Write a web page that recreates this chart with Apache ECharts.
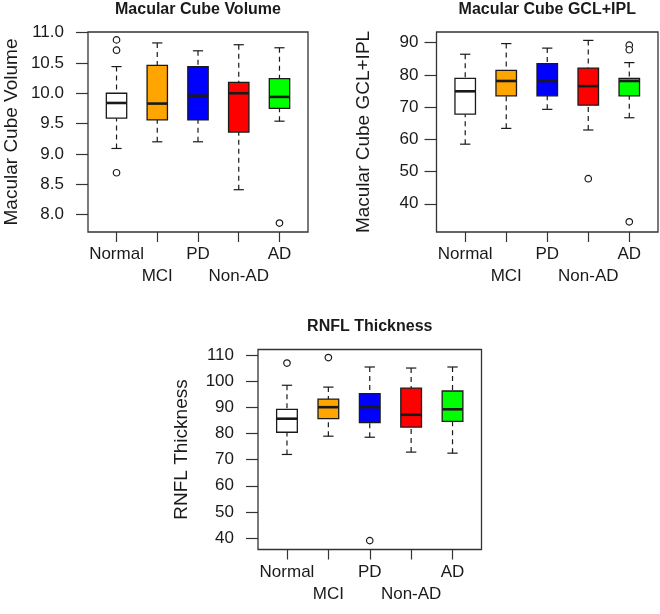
<!DOCTYPE html>
<html>
<head>
<meta charset="utf-8">
<script src="https://cdn.jsdelivr.net/npm/echarts@6/dist/echarts.min.js"></script>
<style>
html,body{margin:0;padding:0;background:#fff;}
#chart{width:660px;height:614px;}
</style>
</head>
<body>
<div id="chart"></div>
<script>
// ---------- data ----------
const categories = ['Normal', 'MCI', 'PD', 'Non-AD', 'AD'];

// [min whisker, Q1, median, Q3, max whisker]
const volumeStats = [
  [9.09, 9.59, 9.84, 10.00, 10.44],
  [9.20, 9.56, 9.83, 10.46, 10.83],
  [9.20, 9.56, 9.96, 10.44, 10.70],
  [8.41, 9.36, 10.00, 10.18, 10.80],
  [9.54, 9.75, 9.94, 10.24, 10.75]
];
// [category number, value]
const volumeOutliers = [[1, 10.88], [1, 10.71], [1, 8.69], [5, 7.86]];
const volumeTicks = [8.0, 8.5, 9.0, 9.5, 10.0, 10.5, 11.0];

const gclStats = [
  [58.5, 67.8, 74.9, 78.9, 86.4],
  [63.4, 73.5, 78.1, 81.4, 89.7],
  [69.3, 73.5, 78.1, 83.5, 88.3],
  [62.9, 70.6, 76.5, 82.1, 90.7],
  [66.7, 73.5, 78.1, 78.9, 83.8]
];
const gclOutliers = [[4, 47.8], [5, 89.2], [5, 87.8], [5, 34.4]];
const gclTicks = [40, 50, 60, 70, 80, 90];

const rnflStats = [
  [72.0, 80.5, 85.7, 89.3, 98.5],
  [79.0, 85.7, 90.1, 93.2, 97.8],
  [78.6, 84.2, 90.1, 95.3, 105.5],
  [72.9, 82.5, 87.2, 97.4, 105.1],
  [72.5, 84.7, 89.3, 96.3, 105.5]
];
const rnflOutliers = [[1, 107.0], [2, 109.1], [3, 39.0]];
const rnflTicks = [40, 50, 60, 70, 80, 90, 100, 110];

const categoryPositions = [1, 2, 3, 4, 5];
const firstRowPositions = [1, 3, 5];
const secondRowPositions = [2, 4];

const panelTitles = ['Macular Cube Volume', 'Macular Cube GCL+IPL', 'RNFL Thickness'];
const yNames = ['Macular Cube Volume', 'Macular Cube GCL+IPL', 'RNFL Thickness'];

// ---------- styles ----------
const boxColors = ['#FFFFFF', '#FFA500', '#0000FF', '#FF0000', '#00FF00'];
const ink = '#1a1a1a';
const frame = '#333333';
const FONT = 'Liberation Sans, Arial, sans-serif';

const panels = [
  {grid: {left: 88, top: 32, width: 220, height: 200}, yMin: 7.713, yMax: 11.01, ticks: volumeTicks, dec: 1, stats: volumeStats, out: volumeOutliers, nameGap: 67, labelMargin: 24},
  {grid: {left: 436.5, top: 32, width: 221.5, height: 200}, yMin: 31.25, yMax: 93.3, ticks: gclTicks, dec: 0, stats: gclStats, out: gclOutliers, nameGap: 63, labelMargin: 18},
  {grid: {left: 258, top: 349.5, width: 223.5, height: 200}, yMin: 35.6, yMax: 112.2, ticks: rnflTicks, dec: 0, stats: rnflStats, out: rnflOutliers, nameGap: 67, labelMargin: 24}
];

function renderBox(params, api) {
  const x = api.value(0);
  const lo = api.value(1), q1 = api.value(2), med = api.value(3), q3 = api.value(4), hi = api.value(5);
  const color = boxColors[params.dataIndex];
  const pLo = api.coord([x, lo]);
  const pQ1 = api.coord([x, q1]);
  const pMed = api.coord([x, med]);
  const pQ3 = api.coord([x, q3]);
  const pHi = api.coord([x, hi]);
  const cx = pMed[0];
  const halfW = api.size([0.25, 0])[0];
  const capW = api.size([0.125, 0])[0];
  const dash = {stroke: ink, lineWidth: 1.2, lineDash: [5, 4]};
  const solid = {stroke: ink, lineWidth: 1.2};
  return {
    type: 'group',
    children: [
      {type: 'line', shape: {x1: cx, y1: pLo[1], x2: cx, y2: pQ1[1]}, style: dash},
      {type: 'line', shape: {x1: cx, y1: pHi[1], x2: cx, y2: pQ3[1]}, style: dash},
      {type: 'line', shape: {x1: cx - capW, y1: pLo[1], x2: cx + capW, y2: pLo[1]}, style: solid},
      {type: 'line', shape: {x1: cx - capW, y1: pHi[1], x2: cx + capW, y2: pHi[1]}, style: solid},
      {type: 'rect', shape: {x: cx - halfW, y: pQ3[1], width: 2 * halfW, height: pQ1[1] - pQ3[1]}, style: {fill: color, stroke: ink, lineWidth: 1.3}},
      {type: 'line', shape: {x1: cx - halfW, y1: pMed[1], x2: cx + halfW, y2: pMed[1]}, style: {stroke: ink, lineWidth: 2.6}}
    ]
  };
}

const grids = [], xAxes = [], yAxes = [], series = [], graphics = [];
const titleY = [2, 2, 318.5];
const catLabel = v => categories[Math.round(v) - 1];

// primary x axes (ticks + first label row), index 0..2
panels.forEach((p, i) => {
  grids.push(Object.assign({show: true, borderColor: frame, borderWidth: 1.3, backgroundColor: 'transparent', outerBoundsMode: 'none', containLabel: false}, p.grid));
  xAxes.push({
    type: 'value', gridIndex: i, position: 'bottom', min: 0.3, max: 5.7,
    splitLine: {show: false},
    axisLine: {show: false},
    axisTick: {show: true, length: 10, lineStyle: {color: frame, width: 1.2}, customValues: categoryPositions},
    axisLabel: {
      customValues: firstRowPositions,
      hideOverlap: false, showMinLabel: true, showMaxLabel: true,
      fontFamily: FONT, fontSize: 17, color: ink, margin: 14,
      formatter: catLabel
    }
  });
});
// secondary x axes (second label row), index 3..5
panels.forEach((p, i) => {
  xAxes.push({
    type: 'value', gridIndex: i, position: 'bottom', min: 0.3, max: 5.7,
    splitLine: {show: false},
    axisLine: {show: false},
    axisTick: {show: false},
    axisLabel: {
      customValues: secondRowPositions,
      hideOverlap: false, showMinLabel: true, showMaxLabel: true,
      fontFamily: FONT, fontSize: 17, color: ink, margin: 36,
      formatter: catLabel
    }
  });
});

panels.forEach((p, i) => {
  yAxes.push({
    type: 'value', gridIndex: i, min: p.yMin, max: p.yMax,
    splitLine: {show: false},
    axisLine: {show: false},
    name: yNames[i], nameLocation: 'middle', nameGap: p.nameGap,
    nameTextStyle: {fontFamily: FONT, fontSize: 19, color: ink},
    axisTick: {show: true, length: 12, lineStyle: {color: frame, width: 1.2}, customValues: p.ticks},
    axisLabel: {
      customValues: p.ticks,
      showMinLabel: true, showMaxLabel: true,
      fontFamily: FONT, fontSize: 17, color: ink, margin: p.labelMargin,
      formatter: v => v.toFixed(p.dec)
    }
  });
  series.push({
    type: 'custom', xAxisIndex: i, yAxisIndex: i,
    renderItem: renderBox,
    encode: {x: 0, y: [1, 2, 3, 4, 5]},
    data: p.stats.map((s, k) => [categoryPositions[k]].concat(s)),
    silent: true, z: 2
  });
  series.push({
    type: 'scatter', xAxisIndex: i, yAxisIndex: i,
    data: p.out,
    symbol: 'circle', symbolSize: 6.5,
    itemStyle: {color: '#ffffff', borderColor: ink, borderWidth: 1.2, opacity: 1},
    silent: true, z: 3
  });
  graphics.push({
    type: 'text',
    x: p.grid.left + p.grid.width / 2,
    y: titleY[i],
    style: {text: panelTitles[i], font: 'bold 16px ' + FONT, fill: ink, textAlign: 'center', textVerticalAlign: 'top'}
  });
});

const chart = echarts.init(document.getElementById('chart'), null, {renderer: 'canvas'});
chart.setOption({
  animation: false,
  backgroundColor: '#ffffff',
  grid: grids,
  xAxis: xAxes,
  yAxis: yAxes,
  series: series,
  graphic: graphics
});
</script>
</body>
</html>
